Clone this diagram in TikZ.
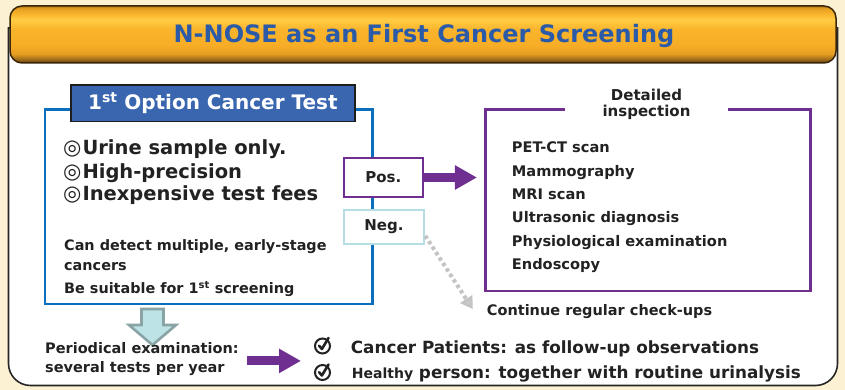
\documentclass[tikz,border=0pt]{standalone}
\usepackage{fontspec}
\setmainfont{DejaVu Sans}
\usetikzlibrary{arrows.meta,calc}

\definecolor{cream}{HTML}{FCF1D3}
\definecolor{framegray}{HTML}{262626}
\definecolor{titleblue}{HTML}{2B5BA8}
\definecolor{boxblue}{HTML}{0B6FBE}
\definecolor{headblue}{HTML}{3A66B0}
\definecolor{headedge}{HTML}{1E1E1E}
\definecolor{purp}{HTML}{6E2F91}
\definecolor{negblue}{HTML}{B5DEE4}
\definecolor{dotgray}{HTML}{C4C4C4}
\definecolor{arrowfill}{HTML}{BEE3E6}
\definecolor{arrowedge}{HTML}{8AA4A6}
\definecolor{textdark}{HTML}{222222}
\definecolor{banedge}{HTML}{3A2608}
\definecolor{banA}{HTML}{5A3A10}
\definecolor{banB}{HTML}{9A6818}
\definecolor{banC}{HTML}{E59E22}
\definecolor{banD}{HTML}{F7AC26}
\definecolor{banE}{HTML}{FAB52C}
\definecolor{banF}{HTML}{FFCC45}
\definecolor{banG}{HTML}{B07818}

% banner gradient, bottom (25bp) to top (75bp)
\pgfdeclareverticalshading{bannershade}{100bp}{
  color(0bp)=(banA); color(25bp)=(banA); color(28bp)=(banB);
  color(33bp)=(banC); color(40bp)=(banD); color(55bp)=(banE);
  color(63bp)=(banF); color(68bp)=(banE); color(73bp)=(banC);
  color(75bp)=(banG); color(100bp)=(banG)}

\newcommand{\px}[1]{\fontsize{#1}{#1}\selectfont}
\newcommand{\dbl}{{\px{21}◎}}

\tikzset{
  txt/.style={inner sep=0, text=textdark, font=\bfseries},
  purparrow/.style={draw=purp, line width=9, -{Triangle[length=22pt,width=23pt]}},
  dotarrow/.style={draw=dotgray, line width=4, dash pattern=on 3.5pt off 3pt,
    -{Triangle[length=12pt,width=14pt,fill=dotgray!85]}},
  tagbox/.style={draw, fill=white, inner sep=0, font=\bfseries\px{15}, text=textdark},
  chkcircle/.style={circle, draw=textdark, line width=2, minimum size=15, inner sep=0},
}

\begin{document}
\begin{tikzpicture}[x=1pt,y=-1pt]
\useasboundingbox (0,0) rectangle (845,390);
\fill[cream] (0,0) rectangle (845,390);

% white panel with rounded lower corners
\draw[framegray, line width=1.6, fill=white]
  (8.5,28) -- (8.5,300) [rounded corners=22] -- (8.5,385.5) -- (837.5,385.5)
  -- (837.5,300) [sharp corners] -- (837.5,28) -- cycle;

% title banner
\shade[shading=bannershade, rounded corners=12] (10,6) rectangle (836,63);
\draw[banedge, line width=1.5, rounded corners=12] (10,6) rectangle (836,63);
\node[inner sep=0, font=\bfseries\px{24}, text=titleblue, anchor=base] (title)
  at (424,42.5) {N-NOSE as an First Cancer Screening};

% first test box
\node[draw=boxblue, line width=2.8, minimum width=327.7, minimum height=194.7,
  inner sep=0] (testbox) at (208.9,206.6) {};
\node[draw=headedge, line width=1.5, fill=headblue, minimum width=284,
  minimum height=36.7, inner sep=0, text=white, font=\bfseries\px{20}]
  (testhead) at (212.9,103.3) {1\textsuperscript{st}\,\,Option Cancer Test};

\node[txt, font=\bfseries\px{19.5}, anchor=base west] (b1) at (63,155)
  {\dbl\hspace{1pt}Urine sample only.};
\node[txt, font=\bfseries\px{19.5}, anchor=base west] (b2) at (63,178.3)
  {\dbl\hspace{1pt}High-precision};
\node[txt, font=\bfseries\px{19.5}, anchor=base west] (b3) at (63,200.7)
  {\dbl\hspace{1pt}Inexpensive test fees};

\node[txt, font=\bfseries\px{14.4}, anchor=base west] (d1) at (64,250)
  {Can detect multiple, early-stage};
\node[txt, font=\bfseries\px{14.4}, anchor=base west] (d2) at (64,270)
  {cancers};
\node[txt, font=\bfseries\px{14.4}, anchor=base west] (d3) at (64,293.3)
  {Be suitable for 1\textsuperscript{st} screening};

% result tags
\node[tagbox, draw=purp, line width=2.3, minimum width=78.7, minimum height=38.4]
  (pos) at (383.3,177.5) {Pos.};
\node[tagbox, draw=negblue, line width=2.5, minimum width=80, minimum height=34]
  (neg) at (384,227) {Neg.};

% detailed inspection box
\node[draw=purp, line width=2.5, minimum width=325, minimum height=181.7,
  inner sep=0] (insp) at (648.2,200.2) {};
\node[fill=white, minimum width=163, inner sep=1, align=center,
  font=\bfseries\fontsize{15}{16.7}\selectfont, text=textdark] (insphead)
  at (646.5,104.5) {Detailed\\inspection};

\node[txt, font=\bfseries\px{14.6}, anchor=base west] (i1) at (511.7,152.7) {PET-CT scan};
\node[txt, font=\bfseries\px{14.6}, anchor=base west] (i2) at (511.7,176) {Mammography};
\node[txt, font=\bfseries\px{14.6}, anchor=base west] (i3) at (511.7,199.3) {MRI scan};
\node[txt, font=\bfseries\px{14.6}, anchor=base west] (i4) at (511.7,222.7) {Ultrasonic diagnosis};
\node[txt, font=\bfseries\px{14.6}, anchor=base west] (i5) at (511.7,246) {Physiological examination};
\node[txt, font=\bfseries\px{14.6}, anchor=base west] (i6) at (511.7,269.3) {Endoscopy};

\node[txt, font=\bfseries\px{14.5}, anchor=base west] (cont) at (486.7,315)
  {Continue regular check-ups};

% connectors from the tags
\draw[purparrow, shorten >=7.5pt] (pos.east) -- (insp.west |- pos.east);
\coordinate (negend) at ($(cont.west)+(-14,-2)$);
\draw[dotarrow] (neg.-12) -- (negend);

% hollow down arrow under the first test box
\coordinate (dtop) at (152.5,309);
\filldraw[fill=arrowfill, draw=arrowedge, line width=2.6, line join=miter]
  ($(dtop)+(-11,0)$) -- ($(dtop)+(11,0)$) -- ($(dtop)+(11,16)$) -- ($(dtop)+(23.5,16)$)
  -- ($(dtop)+(0,36)$) -- ($(dtop)+(-23.5,16)$) -- ($(dtop)+(-11,16)$) -- cycle;

% periodical examination
\node[txt, font=\bfseries\px{14.5}, anchor=base west] (per1) at (45,353.3)
  {Periodical examination:};
\node[txt, font=\bfseries\px{14.5}, anchor=base west] (per2) at (45,372.7)
  {several tests per year};

% check marks
\node[chkcircle] (chk1) at (322.5,346) {};
\node[chkcircle] (chk2) at (322.5,372.5) {};
\foreach \c in {chk1,chk2}{
  \draw[textdark, line width=2.6, line cap=round, line join=round]
    ($(\c.center)+(-3.4,-0.3)$) -- ($(\c.center)+(-0.6,3)$) -- ($(\c.center)+(6,-8)$);
}

\node[txt, font=\bfseries\px{16.8}, anchor=base west] (o1) at (350.7,353.3)
  {Cancer Patients: as follow-up observations};
\node[txt, font=\bfseries\px{16.8}, anchor=base west] (o2) at (351.7,378.3)
  {{\px{14}Healthy} person: together with routine urinalysis};

\coordinate (pstart) at ($(per1.east)+(8,13)$);
\draw[purparrow, shorten >=13pt] (pstart) -- (pstart -| chk1.west);
\end{tikzpicture}
\end{document}
